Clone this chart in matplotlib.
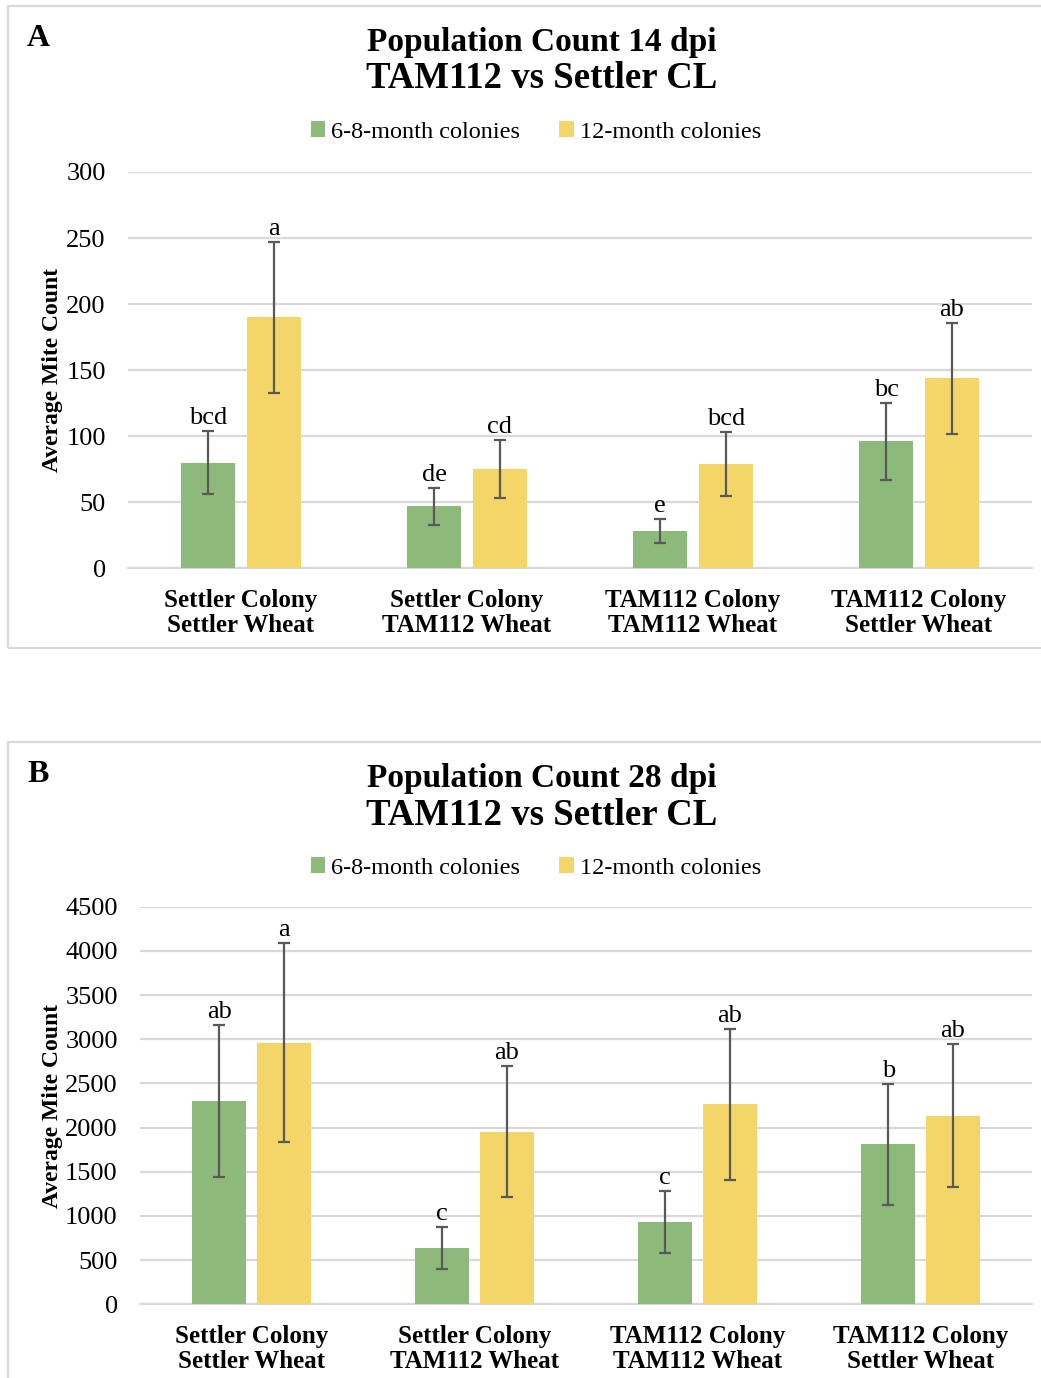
import matplotlib
matplotlib.use('Agg')
import matplotlib.pyplot as plt
from matplotlib.patches import Rectangle, Patch
import numpy as np

plt.rcParams['font.family'] = ['Liberation Serif', 'DejaVu Serif']

# ---------------------------------------------------------------------------
# Data
# ---------------------------------------------------------------------------
categories = ['Settler Colony\nSettler Wheat', 'Settler Colony\nTAM112 Wheat',
              'TAM112 Colony\nTAM112 Wheat', 'TAM112 Colony\nSettler Wheat']
series_names = ['6-8-month colonies', '12-month colonies']

# 14 dpi
mean_14_young = [80, 47, 28, 96]
err_14_young = [24, 14, 9, 29]
mean_14_old = [190, 75, 79, 144]
err_14_old = [57, 22, 24, 42]
letters_14_young = ['bcd', 'de', 'e', 'bc']
letters_14_old = ['a', 'cd', 'bcd', 'ab']

# 28 dpi
mean_28_young = [2300, 634, 935, 1810]
err_28_young = [862, 236, 349, 685]
mean_28_old = [2960, 1954, 2265, 2133]
err_28_old = [1126, 739, 855, 809]
letters_28_young = ['ab', 'c', 'c', 'b']
letters_28_old = ['a', 'ab', 'ab', 'ab']

GREEN = '#8db97b'
YELLOW = '#f3d667'
GRID = '#d9d9d9'
ERR = '#595959'

W, H = 1041, 1378
fig = plt.figure(figsize=(W / 100, H / 100), dpi=100)


def fx(px):
    return px / W


def fy(py):
    return 1 - py / H


def panel(rect, y_top, y_step, means, errs, letters, title1, tag, top_px):
    ax = fig.add_axes(rect)
    x = np.arange(len(categories))
    bw, off = 0.24, 0.145
    for k, (m, e, lab, col) in enumerate(zip(means, errs, letters, [GREEN, YELLOW])):
        pos = x - off if k == 0 else x + off
        ax.bar(pos, m, width=bw, color=col, zorder=3, label=series_names[k])
        ax.errorbar(pos, m, yerr=e, fmt='none', ecolor=ERR, elinewidth=1.6,
                    capsize=4.5, capthick=1.6, zorder=4)
        for p, mm, ee, t in zip(pos, m, e, lab):
            ax.annotate(t, (p, mm + ee), xytext=(0, 5), textcoords='offset points',
                        ha='center', va='baseline', fontsize=19, zorder=5)
    ax.set_xlim(-0.5, len(categories) - 0.5)
    ax.set_ylim(0, y_top)
    ax.set_yticks(np.arange(0, y_top + 1, y_step))
    ax.yaxis.grid(True, color=GRID, lw=1.6, zorder=0)
    ax.set_axisbelow(True)
    for s in ['top', 'right', 'left']:
        ax.spines[s].set_visible(False)
    ax.spines['bottom'].set_color(GRID)
    ax.spines['bottom'].set_linewidth(1.6)
    ax.tick_params(axis='both', length=0)
    ax.tick_params(axis='y', labelsize=19, pad=16)
    ax.tick_params(axis='x', pad=15)
    ax.set_xticks(x)
    ax.set_xticklabels(categories, fontweight='bold', fontsize=18, linespacing=1.1)
    ax.set_ylabel('Average Mite Count', fontweight='bold', fontsize=17)
    ax.yaxis.set_label_coords(fx(63 - rect[0] * W) / rect[2], 0.5)

    # titles, legend, panel tag
    fig.text(fx(542), fy(top_px + 37), title1, ha='center', va='center',
             fontsize=24, fontweight='bold')
    fig.text(fx(542), fy(top_px + 73), 'TAM112 vs Settler CL', ha='center', va='center',
             fontsize=26.5, fontweight='bold')
    fig.text(fx(38), fy(top_px + 33), tag, ha='center', va='center',
             fontsize=23, fontweight='bold')
    handles = [Patch(facecolor=GREEN), Patch(facecolor=YELLOW)]
    fig.legend(handles, series_names, loc='center', ncol=2, frameon=False,
               bbox_to_anchor=(fx(536), fy(top_px + 126)), fontsize=17.5,
               handlelength=0.6, handleheight=0.6, handletextpad=0.25,
               columnspacing=1.6)
    return ax


panel([fx(128), fy(568.3), fx(904), (568.3 - 172) / H], 300, 50,
      [mean_14_young, mean_14_old], [err_14_young, err_14_old],
      [letters_14_young, letters_14_old], 'Population Count 14 dpi', 'A', 6)
panel([fx(140), fy(1304.3), fx(892), (1304.3 - 906.7) / H], 4500, 500,
      [mean_28_young, mean_28_old], [err_28_young, err_28_old],
      [letters_28_young, letters_28_old], 'Population Count 28 dpi', 'B', 742)

# panel borders
fig.patches.append(Rectangle((fx(8), fy(648)), fx(1050), (648 - 6) / H,
                             transform=fig.transFigure, fill=False,
                             edgecolor=GRID, lw=1.6))
fig.patches.append(Rectangle((fx(8), fy(1390)), fx(1050), (1390 - 742) / H,
                             transform=fig.transFigure, fill=False,
                             edgecolor=GRID, lw=1.6))

fig.savefig('out.png', dpi=100, facecolor='white')
